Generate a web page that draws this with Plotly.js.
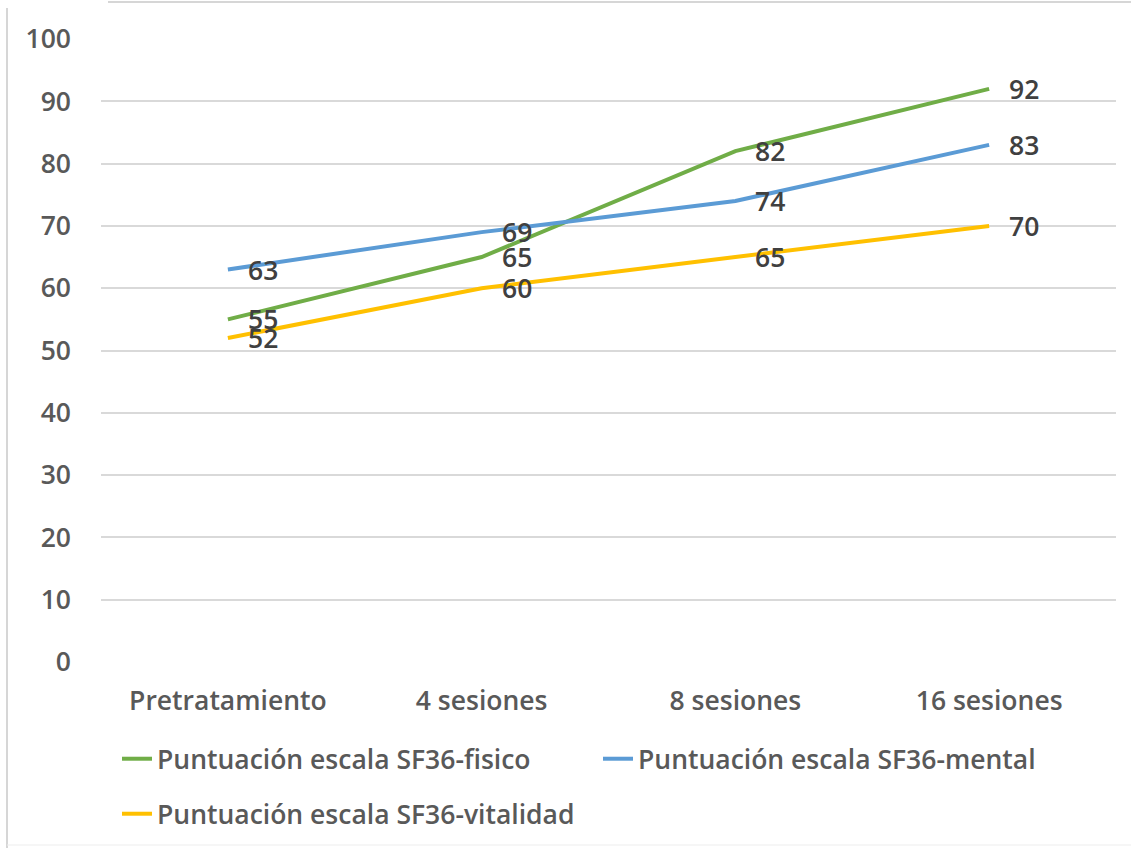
<!DOCTYPE html>
<html>
<head>
<meta charset="utf-8">
<script src="https://cdn.plot.ly/plotly-3.0.1.min.js"></script>
<style>
  html, body { margin: 0; padding: 0; background: #ffffff; }
  #chart { width: 1131px; height: 848px; }
</style>
</head>
<body>
<div id="chart"></div>
<script>
// Session stages on the x axis
var categories = ['Pretratamiento', '4 sesiones', '8 sesiones', '16 sesiones'];

// SF36 scale scores per stage
var fisico = [55, 65, 82, 92];
var mental = [63, 69, 74, 83];
var vitalidad = [52, 60, 65, 70];

var seriesNames = [
  'Puntuación escala SF36-fisico',
  'Puntuación escala SF36-mental',
  'Puntuación escala SF36-vitalidad'
];
var seriesColors = ['#70AD47', '#5B9BD5', '#FFC000'];
var seriesValues = [fisico, mental, vitalidad];
var seriesLegends = ['legend', 'legend', 'legend2'];

var FONT = '"Open Sans", "Liberation Sans", sans-serif';
var FS = 26.5;
var H = 848;

var traces = seriesValues.map(function (vals, i) {
  return {
    type: 'scatter',
    mode: 'lines',
    x: categories,
    y: vals,
    name: seriesNames[i],
    legend: seriesLegends[i],
    line: { color: seriesColors[i], width: 4 },
    hoverinfo: 'x+y+name'
  };
});

// Value labels placed just right of each point
var annotations = [];
seriesValues.forEach(function (vals) {
  vals.forEach(function (v, j) {
    annotations.push({
      x: categories[j],
      y: v,
      xref: 'x',
      yref: 'y',
      text: String(v),
      showarrow: false,
      xanchor: 'left',
      yanchor: 'middle',
      xshift: 18,
      yshift: 0,
      font: { family: FONT, size: FS, color: '#404040', weight: 600 }
    });
  });
});

// Outer frame edges of the chart area
var frameColor = '#d6d6d6';
var shapes = [
  { type: 'line', xref: 'paper', yref: 'paper',
    x0: (108 - 101) / 1015, x1: (1131 - 101) / 1015,
    y0: (662 - 2) / 623, y1: (662 - 2) / 623,
    line: { color: frameColor, width: 2 } },
  { type: 'line', xref: 'paper', yref: 'paper',
    x0: (7 - 101) / 1015, x1: (7 - 101) / 1015,
    y0: (662 - 8) / 623, y1: (662 - 848) / 623,
    line: { color: frameColor, width: 2 } },
  { type: 'line', xref: 'paper', yref: 'paper',
    x0: (7 - 101) / 1015, x1: (1131 - 101) / 1015,
    y0: (662 - 845) / 623, y1: (662 - 845) / 623,
    line: { color: '#ededed', width: 1 } }
];

var layout = {
  width: 1131,
  height: H,
  margin: { l: 101, r: 15, t: 39, b: 186, autoexpand: false },
  paper_bgcolor: '#ffffff',
  plot_bgcolor: '#ffffff',
  font: { family: FONT, size: FS, color: '#595959', weight: 600 },
  showlegend: true,
  xaxis: {
    type: 'category',
    range: [-0.5, 3.5],
    automargin: false,
    showgrid: false,
    zeroline: false,
    showline: false,
    ticks: '',
    ticklabelstandoff: 20,
    tickfont: { family: FONT, size: FS, color: '#595959', weight: 600 },
    fixedrange: true
  },
  yaxis: {
    range: [0, 100],
    dtick: 10,
    tick0: 0,
    automargin: false,
    showgrid: true,
    gridcolor: '#d9d9d9',
    gridwidth: 2,
    zeroline: false,
    showline: false,
    ticks: '',
    ticklabelstandoff: 29,
    tickfont: { family: FONT, size: FS, color: '#595959', weight: 600 },
    fixedrange: true
  },
  legend: {
    orientation: 'h',
    x: (117 - 101) / 1015,
    xanchor: 'left',
    yref: 'container',
    y: 1 - 735 / H,
    yanchor: 'top',
    bgcolor: 'rgba(0,0,0,0)',
    font: { family: FONT, size: FS, color: '#595959', weight: 600 },
    entrywidth: 436,
    entrywidthmode: 'pixels',
    itemclick: false,
    itemdoubleclick: false
  },
  legend2: {
    orientation: 'h',
    x: (117 - 101) / 1015,
    xanchor: 'left',
    yref: 'container',
    y: 1 - 790 / H,
    yanchor: 'top',
    bgcolor: 'rgba(0,0,0,0)',
    font: { family: FONT, size: FS, color: '#595959', weight: 600 },
    itemclick: false,
    itemdoubleclick: false
  },
  annotations: annotations,
  shapes: shapes
};

Plotly.newPlot('chart', traces, layout, { displayModeBar: false, responsive: false });
</script>
</body>
</html>
